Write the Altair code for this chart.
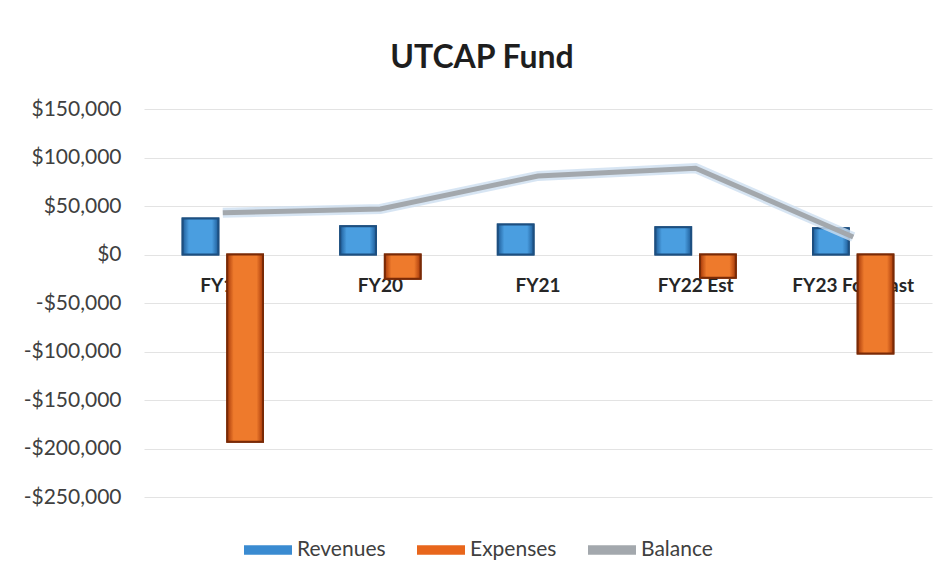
import altair as alt
import pandas as pd

categories = ["FY19", "FY20", "FY21", "FY22 Est", "FY23 Forecast"]
revenues = [37000, 29000, 31000, 28000, 27000]
expenses = [-193000, -25000, None, -24000, -102000]
balance = [43000, 47000, 81000, 89000, 18000]
series_names = ["Revenues", "Expenses", "Balance"]
y_ticks = [-250000, -200000, -150000, -100000, -50000, 0, 50000, 100000, 150000]

bars_df = pd.DataFrame(
    [{"cat": c, "series": "Revenues", "value": v} for c, v in zip(categories, revenues)]
    + [{"cat": c, "series": "Expenses", "value": v} for c, v in zip(categories, expenses) if v is not None]
)
line_df = pd.DataFrame({"cat": categories, "series": "Balance", "value": balance})

FONT = "Lato"
TXT = "#404040"

color_scale = alt.Scale(domain=series_names, range=["#3a8bd1", "#e8661c", "#a3a8ad"])
stroke_scale = alt.Scale(domain=["Revenues", "Expenses"], range=["#1d4f80", "#7a2a06"])

x_enc = alt.X(
    "cat:N",
    sort=categories,
    scale=alt.Scale(paddingInner=0.49, paddingOuter=0.245),
    axis=alt.Axis(
        title=None, orient="bottom", offset=-243, domain=False, ticks=False,
        labelAngle=0, labelFont=FONT, labelFontSize=19, labelFontWeight="bold",
        labelColor="#262626", labelPadding=22, grid=False,
    ),
)
y_enc = alt.Y(
    "value:Q",
    scale=alt.Scale(domain=[-250000, 150000], nice=False),
    axis=alt.Axis(
        title=None, values=y_ticks, domain=False, ticks=False,
        labelExpr="(datum.value < 0 ? '-' : '') + '$' + format(abs(datum.value), ',')",
        labelFont=FONT, labelFontSize=21, labelColor=TXT, labelPadding=23,
        grid=True, gridColor="#e3e3e3", gridWidth=1,
    ),
)
xoff = alt.XOffset("series:N", sort=["Revenues", "Expenses"],
                   scale=alt.Scale(paddingInner=0.2, paddingOuter=0))

bars = alt.Chart(bars_df).mark_bar(strokeWidth=2).encode(
    x=x_enc,
    xOffset=xoff,
    y=y_enc,
    color=alt.Color(
        "series:N", scale=color_scale, sort=series_names,
        legend=alt.Legend(
            title=None, orient="none", direction="horizontal", legendX=100, legendY=417,
            symbolType="M-1,-0.2H1V0.2H-1Z", symbolSize=2304, symbolStrokeWidth=0,
            labelFont=FONT, labelFontSize=21, labelColor=TXT, labelOffset=5,
            columnPadding=31, symbolOpacity=1,
        ),
    ),
    stroke=alt.Stroke("series:N", scale=stroke_scale, legend=None),
)


def grad(edge, mid):
    return alt.LinearGradient(
        gradient="linear", x1=0, x2=1, y1=0, y2=0,
        stops=[
            alt.GradientStop(offset=0, color=edge),
            alt.GradientStop(offset=0.18, color=mid),
            alt.GradientStop(offset=0.82, color=mid),
            alt.GradientStop(offset=1, color=edge),
        ],
    )


rev_shade = alt.Chart(bars_df).transform_filter(alt.datum.series == "Revenues").mark_bar(
    color=grad("#1f5d99", "#4a9ee0"), stroke="#1d4f80", strokeWidth=2
).encode(x=alt.X("cat:N", sort=categories), xOffset=xoff, y="value:Q")

exp_shade = alt.Chart(bars_df).transform_filter(alt.datum.series == "Expenses").mark_bar(
    color=grad("#a83a0a", "#ee7a2c"), stroke="#7a2a06", strokeWidth=2
).encode(x=alt.X("cat:N", sort=categories), xOffset=xoff, y="value:Q")

glow = alt.Chart(line_df).mark_line(strokeWidth=10, color="#cddff0", opacity=0.8).encode(
    x=alt.X("cat:N", sort=categories), y="value:Q"
)
line = alt.Chart(line_df).mark_line(strokeWidth=5).encode(
    x=alt.X("cat:N", sort=categories),
    y="value:Q",
    color=alt.Color("series:N", scale=color_scale, sort=series_names),
)

chart = (
    alt.layer(bars, rev_shade, exp_shade, glow, line)
    .properties(
        width=788, height=388,
        autosize=alt.AutoSizeParams(type="none"),
        padding={"left": 136, "top": 101, "right": 8, "bottom": 79},
        title=alt.TitleParams(
            "UTCAP Fund", font=FONT, fontSize=32, fontWeight="bold", color="#1e1e1e",
            anchor="middle", dx=-56, offset=23,
        ),
        background="white",
    )
    .configure_view(stroke=None)
)

chart.save("out.html", embed_options={"renderer": "svg", "actions": False})
